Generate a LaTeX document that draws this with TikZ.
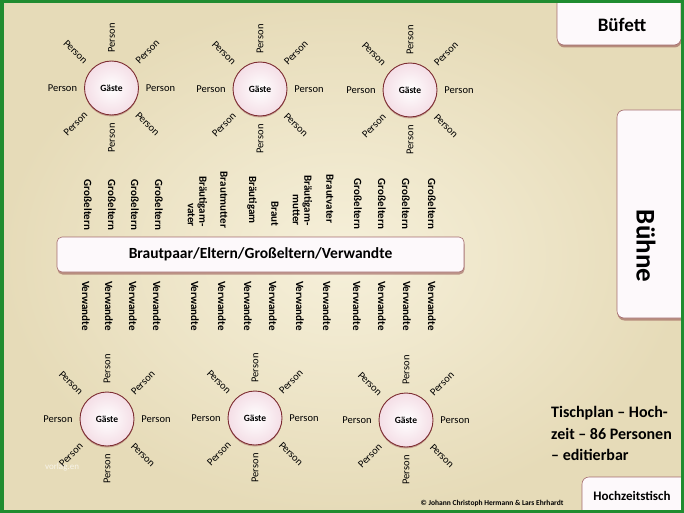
\documentclass[tikz,border=0pt]{standalone}
\usepackage{fontspec}
\setmainfont{Carlito}
\usetikzlibrary{shadows,calc}
\definecolor{parchin}{RGB}{246,240,218}
\definecolor{parchout}{RGB}{230,219,184}
\definecolor{rimred}{RGB}{125,45,50}
\definecolor{boxfill}{RGB}{253,249,251}
\definecolor{tablepink}{RGB}{244,222,230}
\definecolor{framegreen}{RGB}{32,140,48}
\newcommand\guesttable[2]{%
  \node[tablecirc] (#1) at (#2) {Gäste};
  \node[person] (#1-w) at ([shift={(-49,0)}]#1.center) {Person};
  \node[person] (#1-e) at ([shift={(49,0)}]#1.center) {Person};
  \node[person,rotate=90] (#1-n) at ([shift={(0,-50)}]#1.center) {Person};
  \node[person,rotate=90] (#1-s) at ([shift={(0,50)}]#1.center) {Person};
  \node[person,rotate=-45] (#1-nw) at ([shift={(-36,-36)}]#1.center) {Person};
  \node[person,rotate=45] (#1-ne) at ([shift={(36,-36)}]#1.center) {Person};
  \node[person,rotate=45] (#1-sw) at ([shift={(-36,36)}]#1.center) {Person};
  \node[person,rotate=-45] (#1-se) at ([shift={(36,36)}]#1.center) {Person};
}
\begin{document}
\begin{tikzpicture}[x=1pt,y=-1pt,
  person/.style={inner sep=0pt,font=\fontsize{10.5}{12}\selectfont},
  tablecirc/.style={circle,minimum size=54pt,inner sep=0pt,draw=rimred,line width=0.9pt,
    inner color=white,outer color=tablepink,
    drop shadow={shadow xshift=0pt,shadow yshift=-1.5pt,opacity=0.35,fill=rimred},
    font=\bfseries\fontsize{9.5}{11}\selectfont},
  vlabel/.style={rotate=-90,inner sep=0pt,align=right,font=\bfseries\fontsize{11}{11.5}\selectfont},
  panel/.style={draw=rimred!70,line width=0.6pt,fill=boxfill,rounded corners=7pt,
    drop shadow={shadow xshift=0.5pt,shadow yshift=-2.5pt,opacity=0.45,fill=rimred}}]
\useasboundingbox (0,0) rectangle (684,513);
\shade[inner color=parchin,outer color=parchout] (0,0) rectangle (684,513);

% tables
\guesttable{t1}{111.5,88}
\guesttable{t2}{260,89}
\guesttable{t3}{410,90}
\guesttable{t4}{107,419}
\guesttable{t5}{255,418}
\guesttable{t6}{406,420}

% central table
\node[panel,rounded corners=5pt,minimum width=407pt,minimum height=35pt,inner sep=0pt,
  font=\bfseries\fontsize{15.5}{17}\selectfont] (main) at (260.5,254.5) {Brautpaar/Eltern/Großeltern/Verwandte};

% upper labels
\node[vlabel] (g1) at (88,205) {Großeltern};
\node[vlabel] (g2) at (112,205) {Großeltern};
\node[vlabel] (g3) at (135,205) {Großeltern};
\node[vlabel] (g4) at (159,205) {Großeltern};
\node[vlabel] (bgv) at (197.5,201.5) {Bräutigam-\\vater};
\node[vlabel] (bm) at (224,200) {Brautmutter};
\node[vlabel] (bg) at (252,200) {Bräutigam};
\node[vlabel] (br) at (275,214) {Braut};
\node[vlabel] (bgm) at (302.5,200.5) {Bräutigam-\\mutter};
\node[vlabel] (bv) at (330,199) {Brautvater};
\node[vlabel] (g5) at (358,204) {Großeltern};
\node[vlabel] (g6) at (382,204) {Großeltern};
\node[vlabel] (g7) at (406,204) {Großeltern};
\node[vlabel] (g8) at (432,204) {Großeltern};

% lower labels
\foreach \x [count=\i] in {86,109,133,157,195,222,248,273,300,327,357,382,407,432}
  \node[vlabel] (v\i) at (\x,306) {Verwandte};

% right side
\node[panel,minimum width=124pt,minimum height=52pt,inner sep=0pt] (buf) at (619,19) {};
\node[inner sep=0pt,font=\bfseries\fontsize{19}{21}\selectfont] (buftxt) at (622,25) {Büfett};
\node[panel,minimum width=76pt,minimum height=208pt,inner sep=0pt] (bue) at (655,214) {};
\node[rotate=-90,inner sep=0pt,font=\bfseries\fontsize{27}{29}\selectfont] (buetxt) at (646,246) {Bühne};
\node[panel,minimum width=110pt,minimum height=50pt,inner sep=0pt] (hz) at (637,502) {};
\node[inner sep=0pt,font=\bfseries\fontsize{13}{15}\selectfont] (hztxt) at (632,496) {Hochzeitstisch};

\node[anchor=west,align=left,inner sep=0pt,font=\bfseries\fontsize{16}{21.5}\selectfont] (title) at (551,433.5)
  {Tischplan – Hoch-\\zeit – 86 Personen\\– editierbar};

\node[inner sep=0pt,font=\bfseries\fontsize{7.5}{9}\selectfont] (copy) at (492,503)
  {© Johann Christoph Hermann \& Lars Ehrhardt};
\node[inner sep=0pt,text=white,opacity=0.7,font=\fontsize{9}{10}\selectfont] (wm) at (62,467) {vorlag.en};

% frame
\draw[framegreen,line width=3.5pt] (1.75,1.75) rectangle (682.25,511.25);
\end{tikzpicture}
\end{document}
